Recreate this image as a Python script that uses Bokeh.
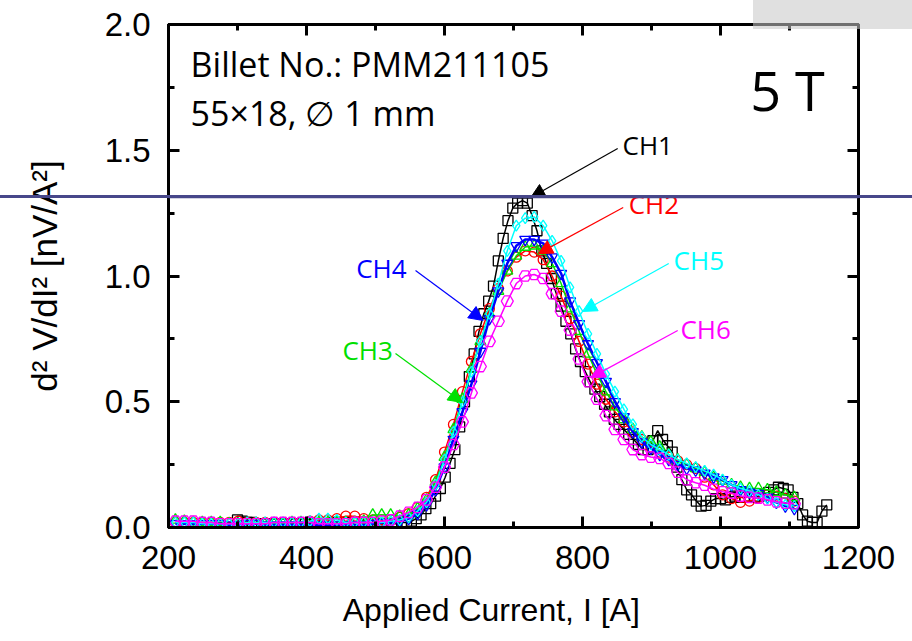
from bokeh.plotting import figure
from bokeh.models import (Label, Arrow, NormalHead, BoxAnnotation, LinearAxis,
                          SingleIntervalTicker, Range1d, PrintfTickFormatter, Div)
from bokeh.layouts import column
from bokeh.embed import file_html
from bokeh.resources import INLINE

# ---------------- data ----------------
current_ch1 = [300, 307, 314, 321, 328, 335, 342, 349, 356, 363,
               370, 377, 384, 391, 398, 405, 412, 419, 426, 433,
               440, 447, 454, 461, 468, 475, 482, 489, 496, 503,
               510, 517, 524, 531, 538, 545, 552, 559, 566, 573,
               580, 587, 594, 601, 608, 615, 622, 629, 636, 643,
               650, 657, 664, 671, 678, 685, 692, 699, 706, 713,
               720, 727, 734, 741, 748, 755, 762, 769, 776, 783,
               790, 797, 804, 811, 818, 825, 832, 839, 846, 853,
               860, 867, 874, 881, 888, 895, 902, 909, 916, 923,
               930, 937, 944, 951, 958, 965, 972, 979, 986, 993,
               1000, 1007, 1014, 1021, 1028, 1035, 1042, 1049, 1056, 1063,
               1070, 1077, 1084, 1091, 1098, 1105, 1112, 1119, 1126, 1133,
               1140, 1147, 1154]
ch1 = [0.03, 0.025, 0.02, 0.02, 0.015, 0.015, 0.015, 0.015, 0.015, 0.015,
       0.015, 0.015, 0.015, 0.015, 0.015, 0.015, 0.015, 0.015, 0.015, 0.015,
       0.02, 0.02, 0.02, 0.02, 0.02, 0.02, 0.02, 0.02, 0.015, 0.015,
       0.015, 0.015, 0.015, 0.015, 0.02, 0.02, 0.025, 0.035, 0.05, 0.075,
       0.095, 0.125, 0.155, 0.20, 0.255, 0.31, 0.40, 0.50, 0.60, 0.69,
       0.78, 0.85, 0.90, 0.96, 1.06, 1.15, 1.22, 1.27, 1.29, 1.30,
       1.29, 1.24, 1.18, 1.10, 1.05, 0.99, 0.93, 0.88, 0.82, 0.77,
       0.71, 0.66, 0.62, 0.58, 0.55, 0.52, 0.49, 0.46, 0.43, 0.41,
       0.39, 0.37, 0.35, 0.33, 0.31, 0.31, 0.345, 0.385, 0.35, 0.325,
       0.30, 0.24, 0.19, 0.15, 0.13, 0.105, 0.085, 0.088, 0.105, 0.115,
       0.115, 0.11, 0.12, 0.125, 0.12, 0.12, 0.125, 0.12, 0.125, 0.13,
       0.14, 0.15, 0.16, 0.155, 0.15, 0.12, 0.095, 0.05, 0.025, 0.02,
       0.02, 0.065, 0.09]

current = [210, 223, 236, 249, 262, 275, 288, 301, 314, 327,
           340, 353, 366, 379, 392, 405, 418, 431, 444, 457,
           470, 483, 496, 509, 522, 535, 548, 561, 574, 587,
           600, 613, 626, 639, 652, 665, 678, 691, 704, 717,
           730, 743, 756, 769, 782, 795, 808, 821, 834, 847,
           860, 873, 886, 899, 912, 925, 938, 951, 964, 977,
           990, 1003, 1016, 1029, 1042, 1055, 1068, 1081, 1094, 1107]
ch2 = [0.02, 0.02, 0.02, 0.02, 0.02, 0.02, 0.02, 0.025, 0.02, 0.02,
       0.02, 0.02, 0.02, 0.02, 0.02, 0.025, 0.03, 0.03, 0.035, 0.045,
       0.045, 0.035, 0.03, 0.03, 0.03, 0.04, 0.055, 0.08, 0.12, 0.19,
       0.30, 0.41, 0.54, 0.66, 0.77, 0.87, 0.95, 1.02, 1.075, 1.10,
       1.095, 1.065, 1.00, 0.92, 0.83, 0.74, 0.65, 0.57, 0.51, 0.46,
       0.42, 0.38, 0.35, 0.32, 0.30, 0.28, 0.265, 0.25, 0.235, 0.20,
       0.17, 0.13, 0.115, 0.10, 0.105, 0.12, 0.13, 0.125, 0.115, 0.105]
ch3 = [0.03, 0.025, 0.02, 0.02, 0.02, 0.02, 0.015, 0.015, 0.015, 0.015,
       0.015, 0.015, 0.015, 0.02, 0.02, 0.02, 0.02, 0.02, 0.02, 0.02,
       0.02, 0.025, 0.05, 0.05, 0.05, 0.045, 0.05, 0.075, 0.11, 0.18,
       0.28, 0.39, 0.51, 0.63, 0.74, 0.85, 0.94, 1.02, 1.08, 1.115,
       1.12, 1.10, 1.05, 0.97, 0.87, 0.78, 0.69, 0.61, 0.54, 0.48,
       0.43, 0.39, 0.36, 0.34, 0.32, 0.29, 0.27, 0.25, 0.235, 0.22,
       0.20, 0.185, 0.17, 0.16, 0.155, 0.155, 0.15, 0.14, 0.13, 0.12]
ch4 = [0.015, 0.015, 0.015, 0.015, 0.015, 0.015, 0.01, 0.01, 0.015, 0.015,
       0.01, 0.01, 0.01, 0.01, 0.01, 0.01, 0.01, 0.01, 0.01, 0.01,
       0.01, 0.01, 0.015, 0.02, 0.02, 0.025, 0.035, 0.055, 0.09, 0.15,
       0.24, 0.35, 0.46, 0.57, 0.70, 0.83, 0.94, 1.05, 1.12, 1.145,
       1.145, 1.13, 1.075, 1.01, 0.90, 0.81, 0.73, 0.655, 0.58, 0.50,
       0.44, 0.38, 0.34, 0.315, 0.29, 0.27, 0.25, 0.235, 0.228, 0.215,
       0.20, 0.19, 0.17, 0.15, 0.14, 0.135, 0.12, 0.10, 0.085, 0.075]
ch5 = [0.02, 0.02, 0.02, 0.015, 0.015, 0.015, 0.015, 0.015, 0.02, 0.02,
       0.02, 0.02, 0.02, 0.02, 0.02, 0.025, 0.035, 0.035, 0.03, 0.02,
       0.02, 0.02, 0.02, 0.02, 0.025, 0.03, 0.04, 0.065, 0.10, 0.17,
       0.27, 0.38, 0.50, 0.62, 0.74, 0.85, 0.97, 1.10, 1.20, 1.23,
       1.235, 1.20, 1.14, 1.06, 0.955, 0.86, 0.77, 0.69, 0.61, 0.54,
       0.47, 0.41, 0.36, 0.33, 0.31, 0.29, 0.27, 0.255, 0.24, 0.225,
       0.21, 0.19, 0.17, 0.155, 0.145, 0.13, 0.115, 0.10, 0.09, 0.085]
ch6 = [0.025, 0.025, 0.025, 0.02, 0.02, 0.015, 0.015, 0.015, 0.015, 0.015,
       0.015, 0.02, 0.02, 0.02, 0.02, 0.02, 0.015, 0.015, 0.015, 0.015,
       0.02, 0.02, 0.02, 0.025, 0.03, 0.045, 0.06, 0.08, 0.11, 0.16,
       0.24, 0.33, 0.42, 0.535, 0.64, 0.74, 0.82, 0.90, 0.97, 1.00,
       1.006, 0.99, 0.93, 0.86, 0.785, 0.67, 0.58, 0.51, 0.445, 0.39,
       0.35, 0.31, 0.29, 0.28, 0.275, 0.255, 0.22, 0.19, 0.178, 0.168,
       0.152, 0.142, 0.137, 0.125, 0.12, 0.117, 0.11, 0.102, 0.097, 0.095]

names = ["CH1", "CH2", "CH3", "CH4", "CH5", "CH6"]
colors = ["#000000", "#ff0000", "#00e000", "#0000ff", "#00ffff", "#ff00ff"]
markers = ["square", "circle", "triangle", "inverted_triangle", "diamond", "hex"]

# label positions (text x, y) and arrows (x0, y0, x1, y1)
label_pos = {"CH1": (858, 1.519), "CH2": (867, 1.288), "CH3": (452, 0.704),
             "CH4": (472, 1.03), "CH5": (932, 1.062), "CH6": (942, 0.791)}
arrow_pos = {"CH1": (851, 1.507, 725, 1.312), "CH2": (859, 1.272, 736, 1.089),
             "CH3": (529, 0.692, 626, 0.497), "CH4": (558, 1.022, 656, 0.823),
             "CH5": (925, 1.05, 800, 0.859), "CH6": (938, 0.783, 812, 0.596)}

x_ticks_interval = 200
y_ticks_interval = 0.5

# ---------------- figure ----------------
W, H = 912, 641
p = figure(width=W, height=H, x_range=Range1d(200, 1200), y_range=Range1d(0, 2.0),
           output_backend="svg", toolbar_location=None,
           min_border_left=168, min_border_right=54, min_border_top=24, min_border_bottom=114,
           x_axis_location=None, y_axis_location=None)
p.grid.visible = False
p.outline_line_color = "black"
p.outline_line_width = 3
p.background_fill_color = "white"
p.border_fill_color = "white"

def make_axis(ticker, show_labels, fmt, standoff):
    ax = LinearAxis(ticker=ticker, formatter=PrintfTickFormatter(format=fmt))
    ax.axis_line_width = 3
    ax.major_tick_line_width = 3
    ax.minor_tick_line_width = 3
    ax.major_tick_in = 11
    ax.major_tick_out = 0
    ax.minor_tick_in = 6
    ax.minor_tick_out = 0
    ax.major_label_text_font = "Liberation Sans"
    ax.major_label_text_font_size = "33px" if show_labels else "0px"
    ax.major_label_text_color = "black"
    ax.major_label_standoff = standoff
    ax.axis_label_text_font = "Liberation Sans"
    ax.axis_label_text_font_style = "normal"
    ax.axis_label_text_color = "black"
    if not show_labels:
        ax.major_label_text_alpha = 0
        ax.major_label_standoff = 0
    return ax

xt = SingleIntervalTicker(interval=x_ticks_interval, num_minor_ticks=2)
yt = SingleIntervalTicker(interval=y_ticks_interval, num_minor_ticks=2)
xb = make_axis(xt, True, "%d", 18)
xb.axis_label = "Applied Current, I [A]" + "\u00a0" * 5
xb.axis_label_text_font_size = "32px"
xb.axis_label_standoff = 20
yl = make_axis(yt, True, "%.1f", 18)
yl.axis_label = "d² V/dI² [nV/A²]"
yl.axis_label_text_font_size = "35px"
yl.axis_label_standoff = 38
p.add_layout(xb, "below")
p.add_layout(make_axis(xt, False, "%d", 0), "above")
p.add_layout(yl, "left")
p.add_layout(make_axis(yt, False, "%.1f", 0), "right")

series = [(current_ch1, ch1), (current, ch2), (current, ch3), (current, ch4), (current, ch5), (current, ch6)]
for (xs, ys), name, c, m in zip(series, names, colors, markers):
    lw = 2.5 if name == "CH4" else 1.5
    p.line(xs, ys, line_color=c, line_width=lw)
    size = 12 if m == "hex" else (11 if m in ("inverted_triangle", "triangle", "diamond") else 10)
    p.scatter(xs, ys, marker=m, size=size, line_color=c, fill_color=None, line_width=1.3)

for name, c in zip(names, colors):
    x0, y0, x1, y1 = arrow_pos[name]
    p.add_layout(Arrow(end=NormalHead(size=14, fill_color=c, line_color=c),
                       x_start=x0, y_start=y0, x_end=x1, y_end=y1,
                       line_color=c, line_width=1.2))
    lx, ly = label_pos[name]
    p.add_layout(Label(x=lx, y=ly, text=name, text_color=c, text_font="Open Sans",
                       text_font_size="26px", text_baseline="middle", text_align="left"))

# annotations
p.add_layout(Label(x=232, y=1.841, text="Billet No.: PMM211105", text_font="Open Sans",
                   text_font_size="34px", text_baseline="middle", text_color="black"))
p.add_layout(Label(x=232, y=1.65, text="55×18, ∅ 1 mm", text_font="Open Sans",
                   text_font_size="34px", text_baseline="middle", text_color="black"))
p.add_layout(Label(x=1043, y=1.738, text="5 T", text_font="Open Sans",
                   text_font_size="54px", text_baseline="middle", text_color="black"))

# horizontal reference line (inside frame) ...
p.add_layout(BoxAnnotation(top=1.319, bottom=1.309, fill_color="#47478a", fill_alpha=1,
                           line_color=None, level="overlay"))

# ... continued across the whole page, plus the grey corner box
line_div = Div(text="", width=W, height=3, margin=0,
               styles={"position": "absolute", "top": "195px", "left": "0px",
                       "background-color": "#47478a", "z-index": "10"})
box_div = Div(text="", width=159, height=29, margin=0,
              styles={"position": "absolute", "top": "0px", "left": "753px",
                      "background-color": "rgba(200,200,200,0.56)", "z-index": "11"})

layout = column(p, line_div, box_div, margin=0)
open("out.html", "w").write(file_html(layout, INLINE))
